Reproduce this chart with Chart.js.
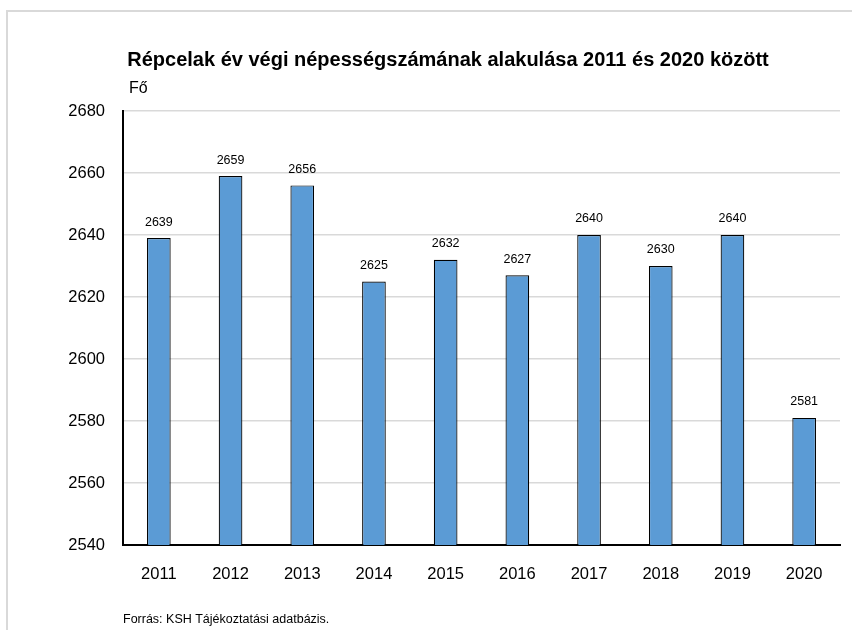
<!DOCTYPE html>
<html>
<head>
<meta charset="utf-8">
<script src="https://cdn.jsdelivr.net/npm/chart.js@4"></script>
<style>
  html, body { margin: 0; padding: 0; background: #fff; }
  canvas { display: block; }
</style>
</head>
<body>
<canvas id="chart" width="852" height="630"></canvas>
<script>
// data
const years = ['2011', '2012', '2013', '2014', '2015', '2016', '2017', '2018', '2019', '2020'];
const population = [2639, 2659, 2656, 2625, 2632, 2627, 2640, 2630, 2640, 2581];
const titleText = 'Répcelak év végi népességszámának alakulása 2011 és 2020 között';
const unitText = 'Fő';
const sourceText = 'Forrás: KSH Tájékoztatási adatbázis.';

const fontFamily = '"Liberation Sans", Arial, sans-serif';

// frame, title, unit label, source line and value labels
const decorations = {
    id: 'decorations',
    beforeDraw(chart) {
        const c = chart.ctx;
        c.save();
        c.strokeStyle = '#d9d9d9';
        c.lineWidth = 2;
        c.beginPath();
        c.moveTo(7, 630);
        c.lineTo(7, 11);
        c.lineTo(852, 11);
        c.stroke();
        c.restore();
    },
    afterDraw(chart) {
        const c = chart.ctx;
        c.save();
        c.fillStyle = '#000';
        c.textBaseline = 'middle';

        c.font = 'bold 20px ' + fontFamily;
        c.textAlign = 'center';
        c.fillText(titleText, 448, 60);

        c.font = '16px ' + fontFamily;
        c.textAlign = 'left';
        c.fillText(unitText, 129, 89);

        c.font = '12.5px ' + fontFamily;
        c.fillText(sourceText, 123, 620);

        c.font = '12.5px ' + fontFamily;
        c.textAlign = 'center';
        const meta = chart.getDatasetMeta(0);
        meta.data.forEach((bar, i) => {
            c.fillText(String(population[i]), bar.x, bar.y - 16);
        });
        c.restore();
    }
};

new Chart(document.getElementById('chart').getContext('2d'), {
    type: 'bar',
    data: {
        labels: years,
        datasets: [{
            data: population,
            backgroundColor: '#5b9bd5',
            borderColor: '#000',
            borderWidth: 1.2,
            categoryPercentage: 1,
            barPercentage: 0.33
        }]
    },
    options: {
        responsive: false,
        animation: false,
        layout: { padding: { top: 111, right: 12, left: 0, bottom: 0 } },
        plugins: {
            legend: { display: false },
            title: { display: false },
            tooltip: { enabled: false }
        },
        scales: {
            x: {
                grid: { display: false, drawTicks: false },
                border: { color: '#000', width: 2 },
                ticks: { color: '#000', font: { family: fontFamily, size: 16.5 }, padding: 20 },
                afterFit(scale) { scale.height = 85; }
            },
            y: {
                min: 2540,
                max: 2680,
                grid: { color: '#d9d9d9', lineWidth: 1.5, drawTicks: false },
                border: { color: '#000', width: 2 },
                ticks: {
                    stepSize: 20,
                    color: '#000',
                    font: { family: fontFamily, size: 16.5 },
                    padding: 18,
                    callback: (value) => String(value)
                },
                afterFit(scale) { scale.width = 123; }
            }
        }
    },
    plugins: [decorations]
});
</script>
</body>
</html>
